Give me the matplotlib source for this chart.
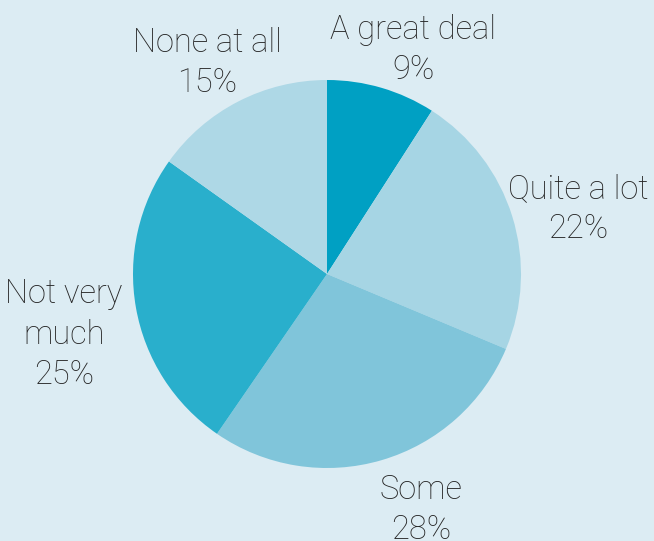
import matplotlib
matplotlib.use("Agg")
import matplotlib.pyplot as plt
import numpy as np

categories = ["A great deal", "Quite a lot", "Some", "Not very much", "None at all"]
values = [9, 22, 28, 25, 15]
label_texts = ["A great deal\n9%", "Quite a lot\n22%", "Some\n28%", "Not very\nmuch\n25%", "None at all\n15%"]
colors = ["#00a0c3", "#a6d5e4", "#80c5da", "#29afcc", "#aed8e6"]
bg = "#dcecf3"

W, H = 654, 541
fig = plt.figure(figsize=(W / 100, H / 100), dpi=100, facecolor=bg)
cx, cy, r = 327, 274, 194
ax = fig.add_axes([(cx - r) / W, (H - cy - r) / H, 2 * r / W, 2 * r / H])
ax.set_facecolor(bg)
ax.pie(values, colors=colors, startangle=90, counterclock=False, radius=1,
       wedgeprops=dict(linewidth=0))
ax.set_xlim(-1, 1)
ax.set_ylim(-1, 1)
ax.axis("off")

# label positions in pixels (layout)
label_pos = [(413, 50), (578, 209), (421, 510), (64, 335), (207, 63)]
for txt, (px, py) in zip(label_texts, label_pos):
    fig.text(px / W, 1 - py / H, txt, ha="center", va="center",
             fontsize=23.5, color="#252525", family="Roboto", fontweight="light",
             linespacing=1.34)

fig.savefig("out.png", dpi=100, facecolor=bg)
